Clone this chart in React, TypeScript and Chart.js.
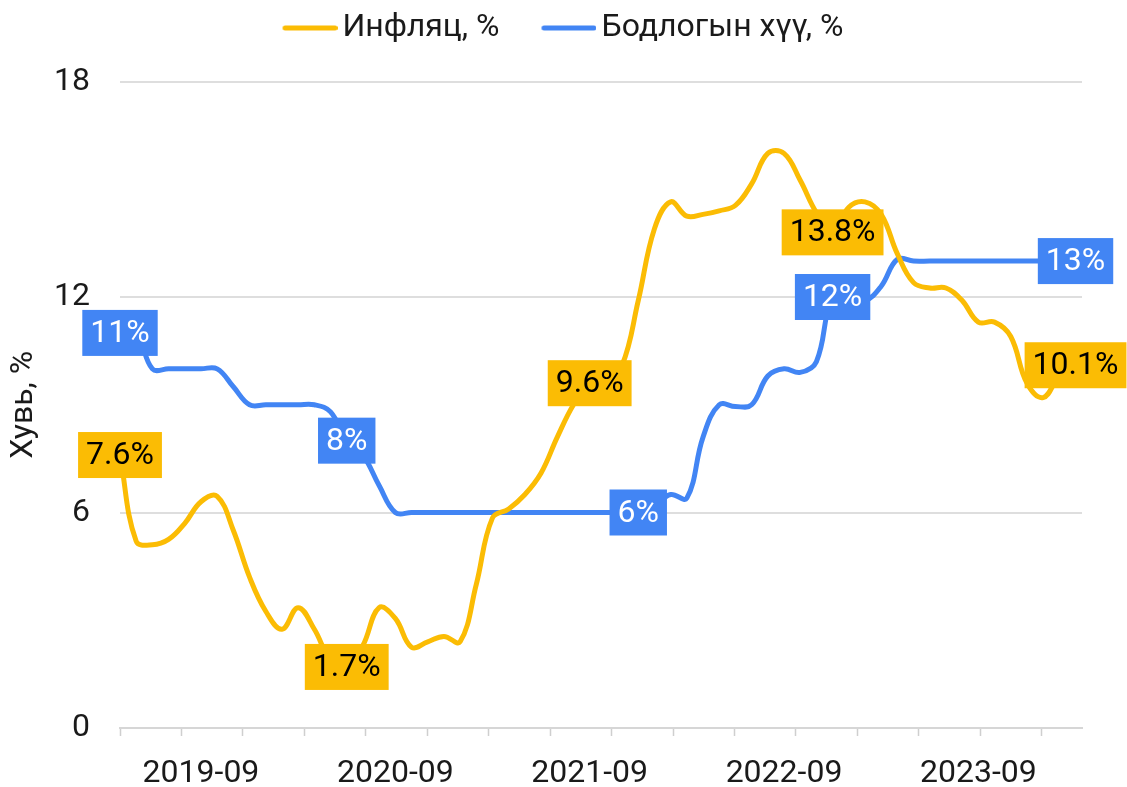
import React, { useEffect, useRef } from 'react';
import { Chart, registerables } from 'chart.js';

Chart.register(...registerables);

// ---- Data ----
const months = [
  '2019-04', '2019-05', '2019-06', '2019-07', '2019-08', '2019-09', '2019-10', '2019-11', '2019-12',
  '2020-01', '2020-02', '2020-03', '2020-04', '2020-05', '2020-06', '2020-07', '2020-08', '2020-09', '2020-10', '2020-11', '2020-12',
  '2021-01', '2021-02', '2021-03', '2021-04', '2021-05', '2021-06', '2021-07', '2021-08', '2021-09', '2021-10', '2021-11', '2021-12',
  '2022-01', '2022-02', '2022-03', '2022-04', '2022-05', '2022-06', '2022-07', '2022-08', '2022-09', '2022-10', '2022-11', '2022-12',
  '2023-01', '2023-02', '2023-03', '2023-04', '2023-05', '2023-06', '2023-07', '2023-08', '2023-09', '2023-10', '2023-11', '2023-12',
  '2024-01', '2024-02', '2024-03',
];

const inflation = [
  7.6, 5.2, 5.1, 5.25, 5.7, 6.3, 6.45, 5.5, 4.2,
  3.25, 2.75, 3.35, 2.75, 1.9, 1.7, 2.3, 3.35, 3.05, 2.25, 2.4, 2.55,
  2.4, 4.0, 5.85, 6.1, 6.5, 7.1, 8.1, 9.0, 9.6, 9.7, 10.1, 11.9,
  13.9, 14.65, 14.25, 14.3, 14.4, 14.55, 15.15, 16.0, 16.0, 15.25, 14.35, 13.8,
  14.5, 14.65, 14.3, 13.2, 12.4, 12.25, 12.25, 11.9, 11.3, 11.3, 10.9, 9.6,
  9.2, 9.8, 10.1,
];

const policyRate = [
  11, 11, 10, 10, 10, 10, 10, 9.5, 9,
  9, 9, 9, 9, 8.8, 8, 7.6, 6.75, 6, 6, 6, 6,
  6, 6, 6, 6, 6, 6, 6, 6, 6, 6, 6, 6,
  6.2, 6.5, 6.4, 8.1, 9, 8.95, 9, 9.8, 10, 9.9, 10.2, 12,
  12, 11.9, 12.3, 13.05, 13, 13, 13, 13, 13, 13, 13, 13,
  13, 13, 13,
];

const xLabelMonths = ['2019-09', '2020-09', '2021-09', '2022-09', '2023-09'];
const inflationLabelMonths = ['2019-04', '2020-06', '2021-09', '2022-12', '2024-03'];
const policyLabelMonths = ['2019-04', '2020-06', '2021-12', '2022-12', '2024-03'];
const seriesNames = ['Инфляц, %', 'Бодлогын хүү, %'];
const yAxisTitle = 'Хувь, %';

// ---- Styles ----
const YELLOW = '#FBBC04';
const BLUE = '#4285F4';
const FONT = 'Roboto';
const TEXT = '#1a1a1a';
const TICK_MARK_STEP = 3.794;
const TICK_MARK_COUNT = 16;

const xLabelPositions = xLabelMonths.map((m) => months.indexOf(m));

function makeLegendLine(color: string): HTMLCanvasElement {
  const c = document.createElement('canvas');
  c.width = 66;
  c.height = 10;
  const g = c.getContext('2d');
  if (g) {
    g.strokeStyle = color;
    g.lineWidth = 5;
    g.lineCap = 'round';
    g.beginPath();
    g.moveTo(11 + 2.5, 5);
    g.lineTo(66 - 2.5, 5);
    g.stroke();
  }
  return c;
}

const legendSpacer = {
  id: 'legendSpacer',
  beforeInit(chart: any) {
    const legend = chart.legend;
    if (!legend || legend.__patched) return;
    const origFit = legend.fit;
    legend.fit = function fit() {
      origFit.call(legend);
      this.height += 27.5;
    };
    legend.__patched = true;
  },
};

const boxLabels = {
  id: 'boxLabels',
  afterDatasetsDraw(chart: any) {
    const ctx = chart.ctx;
    const sets = [
      { ds: 0, list: inflationLabelMonths, values: inflation, bg: YELLOW, fg: '#000000' },
      { ds: 1, list: policyLabelMonths, values: policyRate, bg: BLUE, fg: '#ffffff' },
    ];
    ctx.save();
    ctx.font = `32px ${FONT}`;
    ctx.textAlign = 'center';
    ctx.textBaseline = 'middle';
    sets.forEach((s) => {
      const meta = chart.getDatasetMeta(s.ds);
      s.list.forEach((m) => {
        const i = months.indexOf(m);
        const pt = meta.data[i];
        if (!pt) return;
        const text = `${s.values[i]}%`;
        const w = ctx.measureText(text).width + 16;
        const h = 46;
        ctx.fillStyle = s.bg;
        ctx.fillRect(pt.x - w / 2, pt.y - h / 2, w, h);
        ctx.fillStyle = s.fg;
        ctx.fillText(text, pt.x, pt.y + 1);
      });
    });
    ctx.restore();
  },
};

export default function App() {
  const canvasRef = useRef<HTMLCanvasElement | null>(null);

  useEffect(() => {
    if (!canvasRef.current) return;
    Chart.defaults.font.family = FONT;
    const yellowLine = makeLegendLine(YELLOW);
    const blueLine = makeLegendLine(BLUE);
    const chart = new Chart(canvasRef.current, {
      type: 'line',
      data: {
        datasets: [
          {
            label: seriesNames[0],
            data: inflation.map((v, i) => ({ x: i, y: v })),
            borderColor: YELLOW,
            backgroundColor: YELLOW,
            borderWidth: 5,
            borderCapStyle: 'round',
            borderJoinStyle: 'round',
            tension: 0.4,
            pointRadius: 0,
            pointHoverRadius: 0,
            pointStyle: yellowLine,
          },
          {
            label: seriesNames[1],
            data: policyRate.map((v, i) => ({ x: i, y: v })),
            borderColor: BLUE,
            backgroundColor: BLUE,
            borderWidth: 5,
            borderCapStyle: 'round',
            borderJoinStyle: 'round',
            tension: 0.4,
            pointRadius: 0,
            pointHoverRadius: 0,
            pointStyle: blueLine,
          },
        ],
      },
      options: {
        responsive: false,
        animation: false,
        devicePixelRatio: 1,
        layout: { padding: { left: 44, right: 45, top: -30, bottom: 0 } },
        plugins: {
          legend: {
            position: 'top',
            labels: {
              font: { size: 32, family: FONT },
              color: TEXT,
              usePointStyle: true,
              pointStyleWidth: 44,
              padding: 42,
            },
          },
          tooltip: { enabled: false },
        },
        scales: {
          x: {
            type: 'linear',
            min: 0,
            max: 59.4,
            afterBuildTicks: (scale: any) => {
              const vals: number[] = [...xLabelPositions];
              for (let k = 0; k < TICK_MARK_COUNT; k++) vals.push(k * TICK_MARK_STEP);
              vals.sort((a, b) => a - b);
              scale.ticks = vals.map((v) => ({ value: v }));
            },
            afterFit: (scale: any) => {
              scale.height = 59;
            },
            ticks: {
              autoSkip: false,
              maxRotation: 0,
              minRotation: 0,
              padding: 19,
              color: TEXT,
              font: { size: 32, family: FONT },
              callback: (value: any) => {
                const li = xLabelPositions.indexOf(value);
                return li >= 0 ? xLabelMonths[li] : '';
              },
            },
            grid: {
              display: true,
              drawOnChartArea: false,
              drawTicks: true,
              tickLength: 8,
              tickWidth: 1.5,
              tickColor: (ctx: any) =>
                ctx.tick && xLabelPositions.indexOf(ctx.tick.value) >= 0 ? 'rgba(0,0,0,0)' : '#cfcfcf',
              color: '#cfcfcf',
            },
            border: { display: true, color: '#d6d6d6', width: 2 },
          },
          y: {
            min: 0,
            max: 18,
            afterFit: (scale: any) => {
              scale.width = 76;
            },
            ticks: {
              stepSize: 6,
              padding: 30,
              color: TEXT,
              font: { size: 32, family: FONT },
            },
            grid: {
              color: '#dedede',
              lineWidth: 2,
              drawTicks: false,
            },
            border: { display: false },
            title: {
              display: true,
              text: yAxisTitle,
              color: TEXT,
              font: { size: 32, family: FONT },
              padding: { top: -39, bottom: 0 },
            },
          },
        },
      } as any,
      plugins: [legendSpacer, boxLabels],
    });
    return () => chart.destroy();
  }, []);

  return (
    <div style={{ position: 'fixed', left: 0, top: 0, width: 1127, height: 787, background: '#ffffff' }}>
      <canvas ref={canvasRef} width={1127} height={787} style={{ display: 'block' }} />
    </div>
  );
}
